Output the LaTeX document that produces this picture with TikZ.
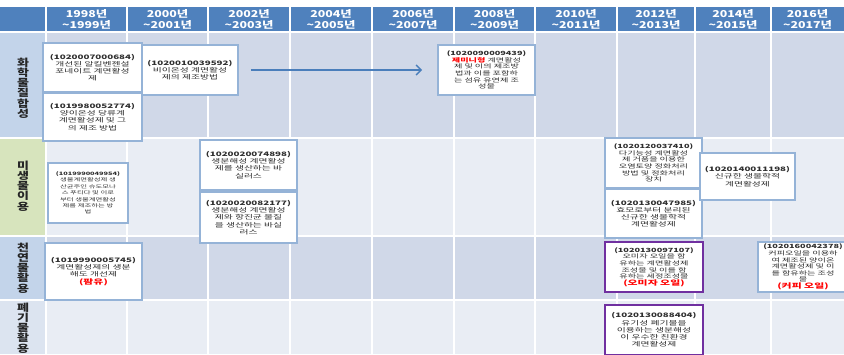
\documentclass[tikz,border=0pt]{standalone}
\usepackage{fontspec}
\setmainfont{Noto Sans CJK KR}[FakeStretch=1.3]
\newfontfamily\boxfont{Noto Sans CJK KR}[FakeStretch=1.6]
\usetikzlibrary{arrows.meta}
\definecolor{hdrblue}{HTML}{4F81BD}
\definecolor{bodyA}{HTML}{D0D8E8}
\definecolor{bodyB}{HTML}{E9EDF4}
\definecolor{labA}{HTML}{C3D4EA}
\definecolor{labG}{HTML}{D7E4BD}
\definecolor{labC}{HTML}{DCE4F0}
\definecolor{boxblue}{HTML}{95B3D7}
\definecolor{purp}{HTML}{7030A0}
\definecolor{txt}{HTML}{2E2E2E}
\definecolor{arrowblue}{HTML}{4A7EBB}
\definecolor{redtxt}{HTML}{FF0000}
\newcommand{\rd}[1]{\textcolor{redtxt}{\bfseries #1}}
\newcommand{\rdb}[1]{\textcolor{redtxt}{\bfseries\fontsize{6.8}{8}\selectfont #1}}
\begin{document}
\begin{tikzpicture}[x=1pt,y=-1pt,
  pbox/.style={draw=boxblue, line width=1.6pt, fill=white, align=center, text=txt,
    font=\boxfont\fontsize{6.1}{7.2}\selectfont, inner sep=1pt},
  tight/.style={font=\boxfont\fontsize{5.7}{6.6}\selectfont},
  small/.style={font=\boxfont\fontsize{4.6}{6.4}\selectfont},
  pboxp/.style={pbox, draw=purp, line width=2.6pt},
  hdr/.style={text=white, font=\bfseries\fontsize{9.5}{11}\selectfont, align=center},
  rowlab/.style={text=black!85, font=\bfseries\fontsize{10}{10.2}\selectfont, align=center},
  gridline/.style={white, line width=1.5pt},
  flow/.style={-{Straight Barb[length=5pt,width=10pt]}, arrowblue, line width=1.5pt}
]
\useasboundingbox (0,0) rectangle (844,354);
\fill[white] (0,0) rectangle (844,354);
% backgrounds
\fill[hdrblue] (0,7) rectangle (844,32);
\fill[labA] (0,32) rectangle (46,138);
\fill[bodyA] (46,32) rectangle (844,138);
\fill[labG] (0,138) rectangle (46,236);
\fill[bodyB] (46,138) rectangle (844,236);
\fill[labA] (0,236) rectangle (46,300);
\fill[bodyA] (46,236) rectangle (844,300);
\fill[labC] (0,300) rectangle (46,354);
\fill[bodyB] (46,300) rectangle (844,354);
\foreach \x in {46,127,208,290,372,454,535,617,695,771}
  \draw[gridline] (\x,7) -- (\x,354);
\foreach \y in {32,138,236,300}
  \draw[gridline] (0,\y) -- (844,\y);
% headers
\node[hdr] (h1) at (86.5,19.5) {1998년\\\textasciitilde1999년};
\node[hdr] (h2) at (167.5,19.5) {2000년\\\textasciitilde2001년};
\node[hdr] (h3) at (249,19.5) {2002년\\\textasciitilde2003년};
\node[hdr] (h4) at (331,19.5) {2004년\\\textasciitilde2005년};
\node[hdr] (h5) at (413,19.5) {2006년\\\textasciitilde2007년};
\node[hdr] (h6) at (494.5,19.5) {2008년\\\textasciitilde2009년};
\node[hdr] (h7) at (576,19.5) {2010년\\\textasciitilde2011년};
\node[hdr] (h8) at (656,19.5) {2012년\\\textasciitilde2013년};
\node[hdr] (h9) at (733,19.5) {2014년\\\textasciitilde2015년};
\node[hdr] (h10) at (807.5,19.5) {2016년\\\textasciitilde2017년};
% row labels
\node[rowlab] (r1) at (23,88) {화\\학\\물\\질\\합\\성};
\node[rowlab] (r2) at (23,186) {미\\생\\물\\이\\용};
\node[rowlab] (r3) at (23,268) {천\\연\\물\\활\\용};
\node[rowlab] (r4) at (23,328) {폐\\기\\물\\활\\용};
% boxes row 1
\node[pbox, minimum width=99pt, minimum height=49pt] (b1) at (92.5,67.5)
  {\textbf{(1020007000684)}\\개선된 알킬벤젠설\\포네이트 계면활성\\제};
\node[pbox, minimum width=96pt, minimum height=50pt] (b2) at (190,70)
  {\textbf{(1020010039592)}\\비이온성 계면활성\\제의 제조방법};
\node[pbox, minimum width=99pt, minimum height=48pt] (b3) at (92.5,117)
  {\textbf{(1019980052774)}\\양이온성 당류계\\계면활성제 및 그\\의 제조 방법};
\node[pbox, tight, minimum width=97pt, minimum height=50pt] (b5) at (486.5,70)
  {\textbf{(1020090009439)}\\\rd{제미니형} 계면활성\\제 및 이의 제조방\\법과 이를 포함하\\는 섬유 유연제 조\\성물};
\draw[flow, shorten <=12pt, shorten >=15pt] (b2.east) -- (b5.west);
% row 2
\node[pbox, small, minimum width=80pt, minimum height=60pt] (b6) at (88,193)
  {\textbf{(1019990049954)}\\생물계면활성제 생\\산균주인 슈도모나\\스 푸티다 및 이로\\부터 생물계면활성\\제를 제조하는 방\\법};
\node[pbox, minimum width=97pt, minimum height=50pt] (b7) at (248.5,165)
  {\textbf{(1020020074898)}\\생분해성 계면활성\\제를 생산하는 바\\실러스};
\node[pbox, minimum width=97pt, minimum height=51pt] (b8) at (248.5,217.5)
  {\textbf{(1020020082177)}\\생분해성 계면활성\\제와 항진균 물질\\을 생산하는 바실\\러스};
\node[pbox, tight, minimum width=97pt, minimum height=50pt] (b9) at (653.5,163)
  {\textbf{(1020120037410)}\\다기능성 계면활성\\제 거품을 이용한\\오염토양 정화처리\\방법 및 정화처리\\장치};
\node[pbox, minimum width=97pt, minimum height=49pt] (b10) at (653.5,213.5)
  {\textbf{(1020130047985)}\\효모로부터 분리된\\신규한 생물학적\\계면활성제};
\node[pbox, minimum width=95pt, minimum height=47pt] (b11) at (747.5,176.5)
  {\textbf{(1020140011198)}\\신규한 생물학적\\계면활성제};
% row 3
\node[pbox, minimum width=97pt, minimum height=57pt] (b12) at (93.5,271.5)
  {\textbf{(1019990005745)}\\계면활성제의 생분\\해도 개선제\\\rdb{(팜유)}};
\node[pboxp, tight, minimum width=98pt, minimum height=50pt] (b13) at (654,267)
  {\textbf{(1020130097107)}\\오미자 오일을 함\\유하는 계면활성제\\조성물 및 이를 함\\유하는 세정조성물\\\rdb{(오미자 오일)}};
\node[pbox, tight, minimum width=90pt, minimum height=50pt] (b14) at (803,267)
  {\textbf{(1020160042378)}\\커피오일을 이용하\\여 제조된 양이온\\계면활성제 및 이\\를 함유하는 조성\\물\\\rdb{(커피 오일)}};
% row 4
\node[pboxp, minimum width=98pt, minimum height=50pt] (b15) at (654,330)
  {\textbf{(1020130088404)}\\유기성 폐기물을\\이용하는 생분해성\\이 우수한 친환경\\계면활성제};
\end{tikzpicture}
\end{document}
